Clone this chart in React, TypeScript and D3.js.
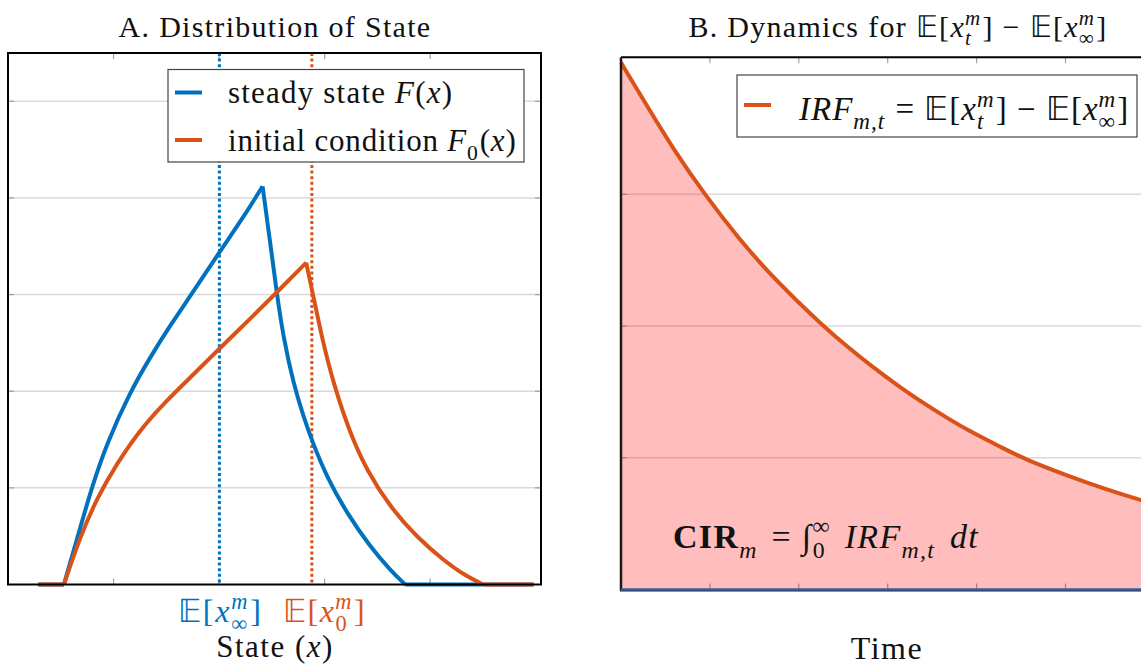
import React from 'react';
import * as d3 from 'd3';

// ---------- data ----------
const steadyX = [0.287, 0.53, 0.682, 0.793, 0.936, 1.156, 1.346, 1.536, 1.756, 2.003, 2.23, 2.412, 2.483, 2.547, 2.609, 2.704, 2.799, 2.879, 3.021, 3.21, 3.431, 3.621, 3.763, 4.979];
const steadyDensity = [0, 0, 0.58, 1.0, 1.46, 1.99, 2.35, 2.68, 3.03, 3.44, 3.8, 4.12, 3.55, 3.01, 2.56, 2.08, 1.74, 1.49, 1.11, 0.74, 0.39, 0.15, 0, 0];

const initX = [0.287, 0.53, 0.682, 0.841, 1.03, 1.251, 1.472, 1.725, 2.003, 2.294, 2.562, 2.825, 2.894, 2.973, 3.083, 3.242, 3.4, 3.621, 3.874, 4.126, 4.348, 4.505, 4.979];
const initDensity = [0, 0, 0.49, 0.89, 1.25, 1.6, 1.87, 2.14, 2.44, 2.75, 3.04, 3.33, 2.98, 2.56, 2.08, 1.56, 1.18, 0.8, 0.49, 0.25, 0.08, 0, 0];

const meanSteady = 2.003;
const meanInit = 2.879;

const timeT = [0, 0.307, 0.607, 0.945, 1.32, 1.732, 2.258, 2.595, 2.801, 3.176, 3.551, 3.926, 4.3, 4.563, 5.051, 5.425, 5.838, 6.0];
const irfValues = [4.0, 3.654, 3.324, 2.995, 2.667, 2.35, 2.008, 1.815, 1.705, 1.515, 1.35, 1.198, 1.072, 0.983, 0.857, 0.768, 0.68, 0.65];

const leftXTicks = [1, 2, 3, 4];
const leftYTicks = [1, 2, 3, 4, 5];
const rightXTicks = [1, 2, 3, 4, 5, 6];
const rightYTicks = [1, 2, 3];

// ---------- styles ----------
const FONT = "'Liberation Serif', 'Times New Roman', serif";
const BLUE = '#0072bd';
const ORANGE = '#d95319';
const GRID = '#d9d9d9';
const TICK = '#a0a0a0';

type Pt = [number, number];

function pieces(xs: number[], ys: number[]): Pt[][] {
  // split at kinks: start of rise, peak, end of decay
  const pts: Pt[] = xs.map((x, i) => [x, ys[i]]);
  const start = ys.findIndex((v, i) => v === 0 && ys[i + 1] > 0);
  let peak = 0;
  ys.forEach((v, i) => { if (v > ys[peak]) peak = i; });
  const end = ys.findIndex((v, i) => i > peak && v === 0);
  return [pts.slice(0, start + 1), pts.slice(start, peak + 1), pts.slice(peak, end + 1), pts.slice(end)];
}

function Scripts({ sup, sub, fs, supW, subW, after, afterDx, upShift, downShift }: any) {
  const s = fs * 0.7;
  const up = upShift ?? fs * 0.4;
  const down = downShift ?? fs * 0.28;
  const items: any[] = [];
  if (sup !== undefined && sub !== undefined) {
    items.push(<tspan key="a" fontSize={s} dy={-up} fontStyle="italic">{sup}</tspan>);
    items.push(<tspan key="b" fontSize={s} dx={-supW} dy={up + down} fontStyle={sub === '∞' || /\d/.test(sub) ? 'normal' : 'italic'}>{sub}</tspan>);
    items.push(<tspan key="c" dx={Math.max(0, supW - subW) + 1 + (afterDx || 0)} dy={-down}>{after}</tspan>);
  } else if (sub !== undefined) {
    items.push(<tspan key="b" fontSize={s} dy={down} fontStyle={/\d/.test(sub) ? 'normal' : 'italic'}>{sub}</tspan>);
    items.push(<tspan key="c" dx={1 + (afterDx || 0)} dy={-down}>{after}</tspan>);
  }
  return <>{items}</>;
}

export default function App() {
  // left panel scales
  const xL = d3.scaleLinear().domain([0, 5.05]).range([8, 541]);
  const yL = d3.scaleLinear().domain([0, 5.5]).range([584.5, 53]);
  // right panel scales
  const xR = d3.scaleLinear().domain([0, 6]).range([621, 1154.4]);
  const yR = d3.scaleLinear().domain([0, 4.04]).range([589.5, 57.3]);

  const lineL = d3.line<Pt>().x((d) => xL(d[0])).y((d) => yL(d[1])).curve(d3.curveBasis);
  const steadyPieces = pieces(steadyX, steadyDensity);
  const initPieces = pieces(initX, initDensity);

  const irfPts: Pt[] = timeT.map((t, i) => [t, irfValues[i]]);
  const lineR = d3.line<Pt>().x((d) => xR(d[0])).y((d) => yR(d[1])).curve(d3.curveBasis);
  const areaR = d3.area<Pt>().x((d) => xR(d[0])).y0(yR(0)).y1((d) => yR(d[1])).curve(d3.curveBasis);

  const [lx0, lx1] = xL.range();
  const [ly0, ly1] = yL.range();
  const [rx0, rx1] = xR.range();
  const [ry0, ry1] = yR.range();

  return (
    <svg width={1141} height={666} style={{ position: 'absolute', left: 0, top: 0, background: '#fff' }} fontFamily={FONT}>
      <rect x={0} y={0} width={1141} height={666} fill="#fff" />
      {/* ================= Panel A ================= */}
      <text x={275} y={37} textAnchor="middle" fontSize={30} letterSpacing={1.3} fill="#111">A. Distribution of State</text>
      {leftYTicks.map((v) => (
        <line key={'gl' + v} x1={lx0} x2={lx1} y1={yL(v)} y2={yL(v)} stroke={GRID} strokeWidth={1.5} />
      ))}
      {leftYTicks.map((v) => (
        <g key={'ytl' + v}>
          <line x1={lx0} x2={lx0 + 6} y1={yL(v)} y2={yL(v)} stroke={TICK} strokeWidth={1.2} />
          <line x1={lx1} x2={lx1 - 6} y1={yL(v)} y2={yL(v)} stroke={TICK} strokeWidth={1.2} />
        </g>
      ))}
      {leftXTicks.map((v) => (
        <g key={'xtl' + v}>
          <line x1={xL(v)} x2={xL(v)} y1={ly0} y2={ly0 - 6} stroke={TICK} strokeWidth={1.2} />
          <line x1={xL(v)} x2={xL(v)} y1={ly1} y2={ly1 + 6} stroke={TICK} strokeWidth={1.2} />
        </g>
      ))}
      <line x1={xL(meanSteady)} x2={xL(meanSteady)} y1={ly1} y2={ly0} stroke={BLUE} strokeWidth={3} strokeDasharray="3 2.6" />
      <line x1={xL(meanInit)} x2={xL(meanInit)} y1={ly1} y2={ly0} stroke={ORANGE} strokeWidth={3} strokeDasharray="3 2.6" />
      {steadyPieces.map((p, i) => (
        <path key={'s' + i} d={lineL(p) || ''} fill="none" stroke={BLUE} strokeWidth={4} strokeLinejoin="miter" />
      ))}
      {initPieces.map((p, i) => (
        <path key={'i' + i} d={lineL(p) || ''} fill="none" stroke={ORANGE} strokeWidth={4} strokeLinejoin="miter" />
      ))}
      <rect x={lx0} y={ly1} width={lx1 - lx0} height={ly0 - ly1} fill="none" stroke="#000" strokeWidth={2} />

      {/* legend A */}
      <rect x={168} y={69.5} width={356} height={92.5} fill="#fff" stroke="#444" strokeWidth={1.2} />
      <line x1={175} x2={202} y1={92.5} y2={92.5} stroke={BLUE} strokeWidth={4} />
      <line x1={175} x2={202} y1={140} y2={140} stroke={ORANGE} strokeWidth={4} />
      <text x={228} y={103} fontSize={31} letterSpacing={1.2} fill="#111">
        steady state <tspan fontStyle="italic">F</tspan>(<tspan fontStyle="italic">x</tspan>)
      </text>
      <text x={228} y={151} fontSize={31} letterSpacing={0.8} fill="#111">
        initial condition <tspan fontStyle="italic">F</tspan>
        <Scripts sub="0" fs={31} after="(" />
        <tspan fontStyle="italic">x</tspan>)
      </text>

      {/* x tick labels */}
      <text x={178} y={622} fontSize={32} letterSpacing={1.8} fill={BLUE}>
        𝔼[<tspan fontStyle="italic">x</tspan>
        <Scripts sup="m" sub="∞" fs={32} supW={18} subW={17.8} after="]" />
      </text>
      <text x={283} y={622} fontSize={32} letterSpacing={1.5} fill={ORANGE}>
        𝔼[<tspan fontStyle="italic">x</tspan>
        <Scripts sup="m" sub="0" fs={32} supW={17.6} subW={12.7} after="]" />
      </text>
      <text x={275} y={657} textAnchor="middle" fontSize={31} letterSpacing={1.5} fill="#111">
        State (<tspan fontStyle="italic">x</tspan>)
      </text>

      {/* ================= Panel B ================= */}
      <text x={898} y={37} textAnchor="middle" fontSize={30} letterSpacing={1.3} fill="#111">
        B. Dynamics for 𝔼[<tspan fontStyle="italic">x</tspan>
        <Scripts sup="m" sub="t" fs={30} supW={16.5} subW={7.1} after="] − 𝔼[" />
        <tspan fontStyle="italic">x</tspan>
        <Scripts sup="m" sub="∞" fs={30} supW={16.5} subW={16.3} after="]" />
      </text>
      {rightYTicks.map((v) => (
        <line key={'gr' + v} x1={rx0} x2={rx1} y1={yR(v)} y2={yR(v)} stroke={GRID} strokeWidth={1.5} />
      ))}
      {rightYTicks.map((v) => (
        <line key={'ytr' + v} x1={rx0} x2={rx0 + 6} y1={yR(v)} y2={yR(v)} stroke={TICK} strokeWidth={1.2} />
      ))}
      {rightXTicks.map((v) => (
        <g key={'xtr' + v}>
          <line x1={xR(v)} x2={xR(v)} y1={ry0} y2={ry0 - 6} stroke={TICK} strokeWidth={1.2} />
          <line x1={xR(v)} x2={xR(v)} y1={ry1} y2={ry1 + 6} stroke={TICK} strokeWidth={1.2} />
        </g>
      ))}
      <path d={areaR(irfPts) || ''} fill="rgba(255,0,0,0.26)" stroke="none" />
      <path d={lineR(irfPts) || ''} fill="none" stroke={ORANGE} strokeWidth={4} />
      <line x1={rx0} x2={rx1} y1={ry1} y2={ry1} stroke="#000" strokeWidth={2} />
      <line x1={rx0} x2={rx0} y1={ry1} y2={ry0 + 1} stroke="#1a1a1a" strokeWidth={2.5} />
      <line x1={rx0 - 1} x2={rx1} y1={ry0 + 1} y2={ry0 + 1} stroke="#222" strokeWidth={2} />
      <line x1={rx0} x2={rx1} y1={ry0} y2={ry0} stroke="#3b5b9b" strokeWidth={2.5} />

      {/* legend B */}
      <rect x={737} y={75} width={400} height={62} fill="#fff" stroke="#444" strokeWidth={1.2} />
      <line x1={744} x2={771} y1={105} y2={105} stroke={ORANGE} strokeWidth={4} />
      <text x={799} y={120} fontSize={33} letterSpacing={1.0} fill="#111">
        <tspan fontStyle="italic">IRF</tspan>
        <Scripts sub="m,t" fs={33} after=" = 𝔼[" />
        <tspan fontStyle="italic">x</tspan>
        <Scripts sup="m" sub="t" fs={33} supW={17.7} subW={7.2} after="] − 𝔼[" />
        <tspan fontStyle="italic">x</tspan>
        <Scripts sup="m" sub="∞" fs={33} supW={17.7} subW={17.5} after="]" />
      </text>

      {/* CIR annotation */}
      <text x={673} y={548} fontSize={34} letterSpacing={1.3} fill="#111">
        <tspan fontWeight="bold">CIR</tspan>
        <Scripts sub="m" fs={34} after="  =  ∫" afterDx={3} />
        <Scripts sup="∞" sub="0" fs={34} supW={18} subW={13} after="  " afterDx={3} />
        <tspan fontStyle="italic">IRF</tspan>
        <Scripts sub="m,t" fs={34} after="  " afterDx={4} />
        <tspan fontStyle="italic">dt</tspan>
      </text>

      <text x={887} y={659} textAnchor="middle" fontSize={32} letterSpacing={1.5} fill="#111">Time</text>
    </svg>
  );
}
